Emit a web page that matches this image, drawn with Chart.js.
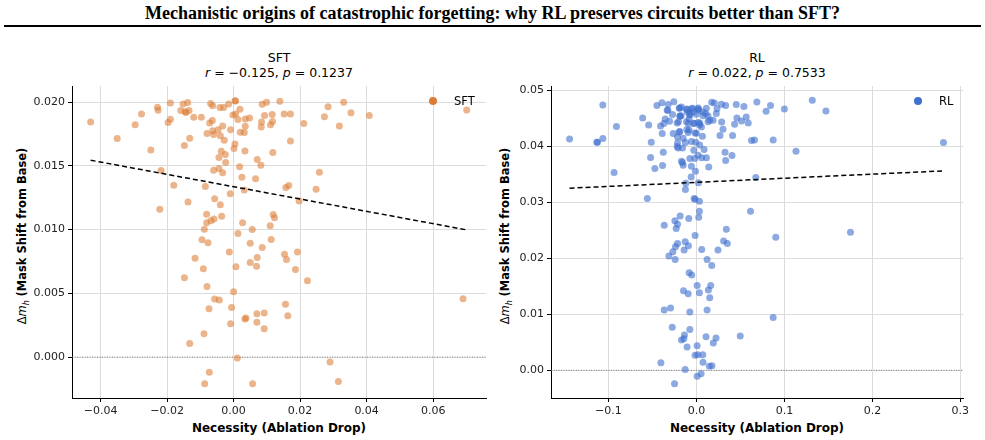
<!DOCTYPE html>
<html>
<head>
<meta charset="utf-8">
<script src="https://cdn.jsdelivr.net/npm/chart.js@4/dist/chart.umd.min.js"></script>
<style>
  html, body { margin:0; padding:0; background:#fff; }
  #wrap { position:relative; width:985px; height:440px; overflow:hidden; font-family:'DejaVu Sans', sans-serif; color:#000; }
  .abs { position:absolute; white-space:nowrap; }
  #title { left:0; top:3px; width:985px; text-align:center; font-family:'Liberation Serif', serif; font-weight:bold; font-size:18px; }
  #rule { left:4px; top:25px; width:977px; height:2px; background:#000; }
  .sub { font-size:12.5px; text-align:center; transform:translateX(-50%); line-height:15px; }
  .xl { font-size:12px; font-weight:bold; transform:translateX(-50%); }
  .yl { position:absolute; width:300px; height:16px; line-height:16px; font-size:11.5px; text-align:center; white-space:nowrap; transform:rotate(-90deg); }
  .yl b { font-weight:bold; }
  .leg { font-size:11.5px; }
  .dot { position:absolute; width:8px; height:8px; border-radius:50%; }
  canvas { position:absolute; }
</style>
</head>
<body>
<div id="wrap">
  <div id="title" class="abs">Mechanistic origins of catastrophic forgetting: why RL preserves circuits better than SFT?</div>
  <div id="rule" class="abs"></div>

  <div class="abs sub" style="left:279px; top:50px;">SFT<br><i>r</i> = −0.125, <i>p</i> = 0.1237</div>
  <div class="abs sub" style="left:757px; top:50px;">RL<br><i>r</i> = 0.022, <i>p</i> = 0.7533</div>

  <div class="yl" style="left:-128px; top:228px;">Δ<i>m</i><sub style="font-size:8px"><i>h</i></sub> <b>(Mask Shift from Base)</b></div>
  <div class="yl" style="left:355px; top:228px;">Δ<i>m</i><sub style="font-size:8px"><i>h</i></sub> <b>(Mask Shift from Base)</b></div>

  <div class="abs xl" style="left:279px; top:421px;">Necessity (Ablation Drop)</div>
  <div class="abs xl" style="left:757px; top:421px;">Necessity (Ablation Drop)</div>

  <canvas id="c1" width="492" height="370" style="left:0px; top:70px; width:492px; height:370px;"></canvas>
  <canvas id="c2" width="493" height="370" style="left:492px; top:70px; width:493px; height:370px;"></canvas>

  <div class="dot" style="left:429px; top:97px; background:#dc7d37;"></div>
  <div class="abs leg" style="left:454px; top:94px;">SFT</div>
  <div class="dot" style="left:914px; top:97px; background:#3f6fcf;"></div>
  <div class="abs leg" style="left:939px; top:94px;">RL</div>
</div>

<script>
// ---------------- data ----------------
const sftX = [-0.0430,-0.0350,-0.0296,-0.0277,-0.0249,-0.0229,-0.0227,-0.0218,-0.0190,-0.0197,-0.0190,-0.0180,-0.0222,-0.0159,-0.0152,-0.0146,-0.0143,-0.0138,-0.0134,-0.0148,-0.0132,-0.0120,-0.0097,-0.0137,-0.0085,-0.0080,-0.0072,-0.0069,-0.0063,-0.0064,-0.0063,-0.0060,-0.0047,-0.0040,-0.0033,-0.0041,-0.0030,-0.0015,-0.0028,-0.0037,-0.0025,-0.0044,-0.0024,-0.0060,-0.0044,-0.0033,-0.0057,-0.0040,-0.0010,-0.0009,-0.0002,0.0006,0.0004,0.0006,0.0019,0.0013,0.0020,0.0004,0.0001,0.0018,0.0025,0.0032,0.0032,0.0035,0.0035,0.0048,0.0034,0.0066,0.0071,0.0082,0.0083,0.0084,0.0086,0.0093,0.0099,0.0111,0.0117,0.0116,0.0118,0.0139,0.0152,0.0171,0.0171,0.0157,0.0166,0.0197,0.0211,0.0248,0.0258,0.0273,0.0284,0.0318,0.0331,0.0353,0.0408,0.0701,-0.0081,-0.0059,-0.0036,0.0119,0.0123,-0.0068,
  -0.0081,-0.0088,0.0027,0.0110,0.0056,0.0013,-0.0095,-0.0077,0.0050,0.0113,0.0086,-0.0013,-0.0116,0.0071,0.0153,0.0192,0.0159,0.0050,0.0069,0.0007,-0.0091,0.0186,-0.0148,0.0222,-0.0080,0.0000,-0.0057,-0.0043,0.0156,0.0690,-0.0006,-0.0074,0.0070,0.0092,0.0163,0.0034,0.0037,0.0070,-0.0009,0.0092,-0.0089,-0.0132,0.0011,0.0290,-0.0073,0.0315,-0.0087,0.0057];
const sftY = [0.01844,0.01714,0.01823,0.01907,0.01625,0.01959,0.01936,0.01463,0.01993,0.01839,0.01865,0.01348,0.01160,0.01933,0.01985,0.01925,0.01919,0.01996,0.01933,0.01659,0.01716,0.01881,0.01881,0.01217,0.01338,0.01753,0.01836,0.01988,0.01972,0.01855,0.01776,0.01745,0.01782,0.01735,0.01813,0.01957,0.01957,0.01985,0.01701,0.01614,0.01588,0.01565,0.01526,0.01466,0.01479,0.01445,0.01241,0.01194,0.01280,0.01782,0.01899,0.01907,0.02011,0.02009,0.01944,0.01863,0.01763,0.01672,0.01635,0.01492,0.01411,0.01311,0.01761,0.01810,0.01868,0.01876,0.01617,0.01398,0.01549,0.01505,0.01805,0.01844,0.01983,0.01894,0.01998,0.01823,0.01847,0.01902,0.01604,0.02006,0.01907,0.01907,0.01695,0.01330,0.01345,0.01225,0.01831,0.01317,0.01450,0.01884,0.01964,0.01813,0.01998,0.01917,0.01894,0.01938,0.01121,0.01082,0.01105,0.01118,0.01092,0.01070,
  0.01053,0.01003,0.01053,0.01029,0.01001,0.00969,0.00920,0.00896,0.00893,0.00922,0.00859,0.00825,0.00776,0.00781,0.00807,0.00825,0.00765,0.00742,0.00713,0.00708,0.00692,0.00687,0.00622,0.00598,0.00554,0.00512,0.00455,0.00447,0.00415,0.00457,0.00389,0.00379,0.00340,0.00345,0.00324,0.00298,0.00306,0.00274,0.00261,0.00222,0.00183,0.00107,-0.00008,-0.00039,-0.00120,-0.00191,-0.00209,-0.00209];

const rlX = [-0.1442,-0.1132,-0.1125,-0.1064,-0.1064,-0.0909,-0.0936,-0.0611,-0.0543,-0.0513,-0.0521,-0.0472,-0.0558,-0.0449,-0.0392,-0.0321,-0.0332,-0.0325,-0.0408,-0.0370,-0.0355,-0.0306,-0.0272,-0.0389,-0.0377,-0.0385,-0.0264,-0.0219,-0.0196,-0.0189,-0.0170,-0.0185,-0.0215,-0.0196,-0.0215,-0.0208,-0.0158,-0.0170,-0.0158,-0.0151,-0.0125,-0.0121,-0.0125,-0.0113,-0.0102,-0.0091,-0.0109,-0.0094,-0.0083,-0.0075,-0.0075,-0.0057,-0.0053,-0.0038,-0.0030,-0.0030,-0.0015,-0.0008,-0.0019,-0.0011,-0.0060,0.0019,0.0026,0.0019,0.0038,0.0057,0.0068,0.0019,0.0060,0.0087,0.0113,0.0140,0.0023,0.0075,0.0106,0.0132,0.0151,0.0189,0.0226,0.0234,0.0174,0.0204,0.0283,0.0332,0.0287,0.0302,0.0268,0.0325,0.0332,0.0404,0.0411,0.0434,0.0453,0.0460,0.0513,0.0540,0.0566,0.0589,0.0626,0.0660,0.0687,0.0675,0.0792,0.0842,0.0872,0.1000,0.1132,0.1317,0.1472,0.2808,
  -0.0026,-0.0015,0.0034,0.0034,0.0026,-0.0087,-0.0185,-0.0245,-0.0215,-0.0230,-0.0366,-0.0015,0.0615,0.0340,0.0902,0.1751,0.0309,0.0351,-0.0128,-0.0091,-0.0215,-0.0238,-0.0268,-0.0140,0.0060,0.0245,-0.0313,
  -0.0242,0.0121,0.0174,-0.0083,-0.0053,0.0008,0.0162,-0.0147,0.0136,-0.0094,0.0034,0.0151,-0.0366,-0.0294,-0.0075,0.0121,0.0872,-0.0275,-0.0075,-0.0136,-0.0170,-0.0143,0.0109,0.0223,0.0498,0.0192,-0.0106,0.0008,-0.0015,0.0015,0.0072,-0.0404,0.0075,0.0147,0.0177,-0.0128,0.0008,0.0053,-0.0249,
  -0.0189,-0.0106,-0.0045,0.0022,-0.0174,-0.0076,0.0000,0.0075,-0.0204,-0.0113,-0.0030,0.0037,-0.0189,-0.0083,0.0000,-0.0151,-0.0057,-0.0219,0.0037,-0.0257,0.0113,0.0132];
const rlY = [0.04132,0.04073,0.04073,0.04138,0.04738,0.04351,0.03531,0.04505,0.04381,0.04073,0.03799,0.03603,0.03068,0.04726,0.04779,0.04744,0.04643,0.04643,0.04363,0.04405,0.04488,0.04446,0.04565,0.04226,0.03893,0.03655,0.04226,0.04417,0.04684,0.04541,0.04702,0.04535,0.04167,0.04256,0.04060,0.03971,0.03971,0.03734,0.03710,0.03663,0.04067,0.03342,0.03229,0.04655,0.04613,0.04405,0.04298,0.04244,0.04488,0.04577,0.03780,0.03644,0.04672,0.04613,0.03929,0.04405,0.04238,0.04073,0.03780,0.03554,0.03453,0.04684,0.04643,0.04423,0.04417,0.04345,0.04179,0.03840,0.03793,0.03941,0.03793,0.03632,0.03348,0.04613,0.04583,0.04541,0.04464,0.04464,0.04583,0.04672,0.04785,0.04773,0.04749,0.04726,0.04434,0.04304,0.04191,0.03893,0.03745,0.03834,0.04191,0.04393,0.04744,0.04505,0.04452,0.04708,0.04523,0.04417,0.04102,0.04114,0.04791,0.03441,0.04624,0.04726,0.04114,0.04666,0.03911,0.04820,0.04630,0.04067,
  0.03068,0.03056,0.03020,0.02842,0.02735,0.02711,0.02753,0.02669,0.02610,0.02533,0.02592,0.02408,0.02842,0.02520,0.02378,0.02467,0.02307,0.02265,0.02295,0.02223,0.02265,0.02205,0.02116,0.02146,0.02158,0.02146,0.02039,
  0.01979,0.01979,0.01873,0.01742,0.01700,0.01516,0.01516,0.01421,0.01433,0.01368,0.01386,0.01296,0.01076,0.01112,0.01041,0.01076,0.00945,0.00767,0.00731,0.00630,0.00541,0.00565,0.00600,0.00576,0.00612,0.00487,0.00416,0.00439,0.00267,0.00279,0.00279,0.00136,0.00142,0.00071,0.00083,0.00017,-0.00107,-0.00059,-0.00238,
  0.04678,0.04666,0.04678,0.04666,0.04547,0.04559,0.04571,0.04547,0.04440,0.04440,0.04410,0.04381,0.04262,0.04292,0.04232,0.04143,0.04083,0.03994,0.04024,0.04797,0.04678,0.04440];

// regression line endpoints (as drawn)
const sftFitX = [-0.0430, 0.0700];
const sftFitY = [0.01544, 0.00998];
const rlFitX = [-0.1442, 0.2792];
const rlFitY = [0.03251, 0.03560];

// axis ranges & ticks
const sftXRange = [-0.0486, 0.0759];
const sftYRange = [-0.00321, 0.02126];
const rlXRange = [-0.1653, 0.3030];
const rlYRange = [-0.00494, 0.05076];
const sftXTicks = [-0.04, -0.02, 0, 0.02, 0.04, 0.06];
const sftXLabels = ['−0.04', '−0.02', '0.00', '0.02', '0.04', '0.06'];
const sftYTicks = [0, 0.005, 0.01, 0.015, 0.02];
const sftYLabels = ['0.000', '0.005', '0.010', '0.015', '0.020'];
const rlXTicks = [-0.1, 0, 0.1, 0.2, 0.3];
const rlXLabels = ['−0.1', '0.0', '0.1', '0.2', '0.3'];
const rlYTicks = [0, 0.01, 0.02, 0.03, 0.04, 0.05];
const rlYLabels = ['0.00', '0.01', '0.02', '0.03', '0.04', '0.05'];

// ---------------- drawing ----------------
Chart.defaults.font.family = "'DejaVu Sans', sans-serif";
Chart.defaults.font.size = 11;
Chart.defaults.color = '#222';
Chart.defaults.animation = false;

function pts(xs, ys) { return xs.map((x, i) => ({ x: x, y: ys[i] })); }

function makeScale(range, ticks, labels, horiz, fitSize) {
  return {
    type: 'linear',
    min: range[0], max: range[1],
    afterBuildTicks: s => { s.ticks = ticks.map(v => ({ value: v })); },
    afterFit: s => { if (horiz) s.height = fitSize; else s.width = fitSize; },
    ticks: {
      callback: (v) => { const i = ticks.findIndex(t => Math.abs(t - v) < 1e-9); return i >= 0 ? labels[i] : ''; },
      padding: 3, autoSkip: false, maxRotation: 0, color: '#222', font: { size: 11 }
    },
    grid: { color: '#dcdcdc', lineWidth: 1, tickColor: '#000', tickLength: 4, drawTicks: true },
    border: { color: '#000', width: 1 }
  };
}

function makeChart(id, xs, ys, color, fitX, fitY, xr, yr, xt, xl, yt, yl, yWidth, padRight) {
  return new Chart(document.getElementById(id), {
    type: 'scatter',
    data: {
      datasets: [
        { type: 'line', data: pts(fitX, fitY), borderColor: '#000', borderWidth: 1.5, borderDash: [5, 3], pointRadius: 0, fill: false },
        { type: 'scatter', data: pts(xs, ys), backgroundColor: color, borderWidth: 0, pointRadius: 3.5, pointHoverRadius: 3.5 },
        { type: 'line', data: pts(xr, [0, 0]), borderColor: '#666', borderWidth: 0.8, borderDash: [1, 1.5], pointRadius: 0, fill: false }
      ]
    },
    options: {
      responsive: false,
      maintainAspectRatio: false,
      layout: { padding: { left: 0, right: padRight, top: 16, bottom: 0 } },
      plugins: { legend: { display: false }, tooltip: { enabled: false } },
      scales: {
        x: makeScale(xr, xt, xl, true, 42),
        y: makeScale(yr, yt, yl, false, yWidth)
      }
    }
  });
}

makeChart('c1', sftX, sftY, 'rgba(220,125,55,0.58)', sftFitX, sftFitY, sftXRange, sftYRange, sftXTicks, sftXLabels, sftYTicks, sftYLabels, 72, 6);
makeChart('c2', rlX, rlY, 'rgba(63,111,207,0.6)', rlFitX, rlFitY, rlXRange, rlYRange, rlXTicks, rlXLabels, rlYTicks, rlYLabels, 59, 22);
</script>
</body>
</html>
